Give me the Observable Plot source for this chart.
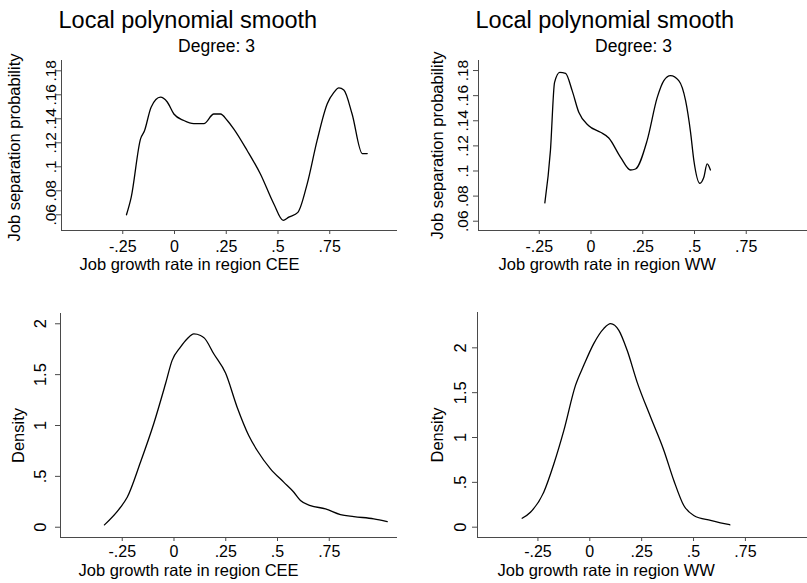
<!DOCTYPE html>
<html>
<head>
<meta charset="utf-8">
<script src="https://cdn.jsdelivr.net/npm/d3@7"></script>
<script src="https://cdn.jsdelivr.net/npm/@observablehq/plot@0.6"></script>
<style>
html, body { margin: 0; padding: 0; background: #fff; }
#chart { position: relative; width: 807px; height: 583px; overflow: hidden; background: #fff; }
#chart svg { position: absolute; }
#chart g[aria-label="x-axis tick label"] text { font-size: 16px !important; }
#chart svg.sep g[aria-label="y-axis tick label"] text { font-size: 15.5px !important; }
#chart svg.dens g[aria-label="y-axis tick label"] text { font-size: 16.5px !important; }
</style>
</head>
<body>
<div id="chart"></div>
<script>
// ---- Text ----
const panelTitle = "Local polynomial smooth";
const panelSubtitle = "Degree: 3";
const sepLabel = "Job separation probability";
const densLabel = "Density";
const xLabelCEE = "Job growth rate in region CEE";
const xLabelWW = "Job growth rate in region WW";

// ---- Tick labels ----
const xTicks = [-0.25, 0, 0.25, 0.5, 0.75];
const sepTicks = [0.06, 0.08, 0.1, 0.12, 0.14, 0.16, 0.18];
const densTicks = [0, 0.5, 1, 1.5, 2];

// ---- Local polynomial smooth, CEE ----
const ceeSmoothX = [-0.232,-0.209,-0.164,-0.145,-0.113,-0.068,-0.035,-0.003,0.045,0.093,0.142,0.190,0.222,0.255,0.286,0.351,0.415,0.480,0.525,0.552,0.596,0.641,0.689,0.738,0.770,0.794,0.818,0.858,0.907,0.931];
const ceeSmoothY = [0.060,0.0747,0.1233,0.130,0.1497,0.158,0.154,0.144,0.1386,0.136,0.136,0.144,0.144,0.1386,0.1317,0.1136,0.094,0.069,0.0553,0.058,0.062,0.0858,0.122,0.1525,0.162,0.1658,0.164,0.144,0.111,0.111];

// ---- Local polynomial smooth, WW ----
const wwSmoothX = [-0.223,-0.196,-0.176,-0.151,-0.123,-0.091,-0.059,-0.011,0.046,0.086,0.143,0.191,0.215,0.271,0.320,0.352,0.384,0.424,0.457,0.481,0.497,0.526,0.545,0.561,0.577];
const wwSmoothY = [0.0746,0.1162,0.1706,0.1786,0.1778,0.164,0.1467,0.1361,0.1308,0.1263,0.1109,0.1008,0.1016,0.1242,0.1586,0.172,0.1759,0.172,0.156,0.1308,0.1083,0.0902,0.095,0.1056,0.1008];

// ---- Kernel density, CEE ----
const ceeDensX = [-0.336,-0.258,-0.226,-0.162,-0.098,-0.041,-0.009,0.031,0.064,0.096,0.128,0.147,0.192,0.249,0.305,0.361,0.402,0.466,0.530,0.579,0.611,0.659,0.732,0.804,0.869,0.965,1.030];
const ceeDensY = [0.023,0.197,0.295,0.639,1.017,1.41,1.64,1.77,1.853,1.90,1.885,1.859,1.705,1.515,1.18,0.902,0.754,0.574,0.443,0.344,0.263,0.213,0.181,0.125,0.105,0.082,0.056];

// ---- Kernel density, WW ----
const wwDensX = [-0.326,-0.286,-0.222,-0.173,-0.125,-0.069,-0.029,0.019,0.067,0.100,0.140,0.180,0.228,0.293,0.357,0.405,0.453,0.501,0.582,0.630,0.675];
const wwDensY = [0.10,0.167,0.39,0.707,1.079,1.581,1.805,2.047,2.214,2.27,2.195,1.972,1.618,1.228,0.856,0.521,0.242,0.131,0.075,0.049,0.027];

const axisColor = "#4a4a4a";
const font = "'Liberation Sans', Arial, Helvetica, sans-serif";

function stataFmt(v) {
  const s = String(+(+v).toFixed(4));
  return s.replace(/^(-?)0\./, "$1.");
}

function panel(cfg) {
  const data = cfg.x.map((x, i) => ({x, y: cfg.y[i]}));
  const marks = [
    Plot.ruleX([cfg.xDomain[0]], {stroke: axisColor, strokeWidth: 1}),
    Plot.ruleY([cfg.yDomain[0]], {stroke: axisColor, strokeWidth: 1}),
    Plot.axisX({ticks: xTicks, tickFormat: stataFmt, tickSize: 4, tickPadding: cfg.xPad, stroke: axisColor, label: null, fontSize: 16}),
    Plot.axisY({ticks: cfg.yTicks, tickFormat: stataFmt, tickRotate: -90, tickSize: 5, tickPadding: cfg.yPad, stroke: axisColor, label: null, fontSize: cfg.yFont}),
    Plot.line(data, {x: "x", y: "y", curve: "monotone-x", stroke: "#000", strokeWidth: 1.3}),
    Plot.text([cfg.yTitle], {frameAnchor: "left", rotate: -90, textAnchor: "middle", lineAnchor: "bottom", dx: cfg.yTitleDx, dy: cfg.yTitleDy, fontSize: 16.5, fill: "#000"}),
    Plot.text([cfg.xTitle], {frameAnchor: "bottom-left", textAnchor: "start", lineAnchor: "bottom", dx: cfg.xTitleDx, dy: cfg.xTitleDy, fontSize: 16.5, fill: "#000"})
  ];
  if (cfg.title) {
    marks.push(Plot.text([cfg.title], {frameAnchor: "top-left", textAnchor: "start", lineAnchor: "bottom", dx: -3, dy: -33, fontSize: 23.5, fill: "#000"}));
    marks.push(Plot.text([cfg.subtitle], {frameAnchor: "top-left", textAnchor: "middle", lineAnchor: "bottom", dx: cfg.subDx, dy: -8.5, fontSize: 17.5, fill: "#000"}));
  }
  const svg = Plot.plot({
    width: cfg.width,
    height: cfg.height,
    marginLeft: cfg.ml,
    marginRight: cfg.mr,
    marginTop: cfg.mt,
    marginBottom: cfg.mb,
    x: {type: "linear", domain: cfg.xDomain},
    y: {type: "linear", domain: cfg.yDomain},
    style: {fontFamily: font, fontSize: "16px", color: "#000", background: "transparent", overflow: "visible"},
    marks
  });
  svg.classList.add(cfg.kind);
  svg.style.left = cfg.left + "px";
  svg.style.top = cfg.top + "px";
  document.getElementById("chart").appendChild(svg);
}

// Top-left: smooth, CEE
panel({
  kind: "sep",
  left: 0, top: 0, width: 403, height: 290, ml: 61, mr: 6, mt: 60, mb: 60,
  xDomain: [-0.5459, 1.0773], yDomain: [0.0469, 0.1886],
  x: ceeSmoothX, y: ceeSmoothY, yTicks: sepTicks, yFont: 15.5,
  xPad: 6, yPad: 1,
  yTitle: sepLabel, yTitleDx: -42, yTitleDy: 2,
  xTitle: xLabelCEE, xTitleDx: 18, xTitleDy: 39,
  title: panelTitle, subtitle: panelSubtitle, subDx: 155
});

// Top-right: smooth, WW
panel({
  kind: "sep",
  left: 403, top: 0, width: 404, height: 290, ml: 75, mr: 0, mt: 60, mb: 60,
  xDomain: [-0.5435, 1.0459], yDomain: [0.0526, 0.188],
  x: wwSmoothX, y: wwSmoothY, yTicks: sepTicks, yFont: 15.5,
  xPad: 6, yPad: 6,
  yTitle: sepLabel, yTitleDx: -36, yTitleDy: 0,
  xTitle: xLabelWW, xTitleDx: 20, xTitleDy: 39,
  title: panelTitle, subtitle: panelSubtitle, subDx: 155
});

// Bottom-left: density, CEE
panel({
  kind: "dens",
  left: 0, top: 290, width: 403, height: 293, ml: 60, mr: 6, mt: 23, mb: 46,
  xDomain: [-0.5483, 1.0797], yDomain: [-0.101, 2.101],
  x: ceeDensX, y: ceeDensY, yTicks: densTicks, yFont: 16.5,
  xPad: 4, yPad: 10,
  yTitle: densLabel, yTitleDx: -36.5, yTitleDy: 10,
  xTitle: xLabelCEE, xTitleDx: 18, xTitleDy: 38.5
});

// Bottom-right: density, WW
panel({
  kind: "dens",
  left: 403, top: 290, width: 404, height: 293, ml: 74, mr: 0, mt: 22, mb: 46,
  xDomain: [-0.5412, 1.0492], yDomain: [-0.115, 2.394],
  x: wwDensX, y: wwDensY, yTicks: densTicks, yFont: 16.5,
  xPad: 4, yPad: 7,
  yTitle: densLabel, yTitleDx: -35, yTitleDy: 10,
  xTitle: xLabelWW, xTitleDx: 20, xTitleDy: 38.5
});
</script>
</body>
</html>
